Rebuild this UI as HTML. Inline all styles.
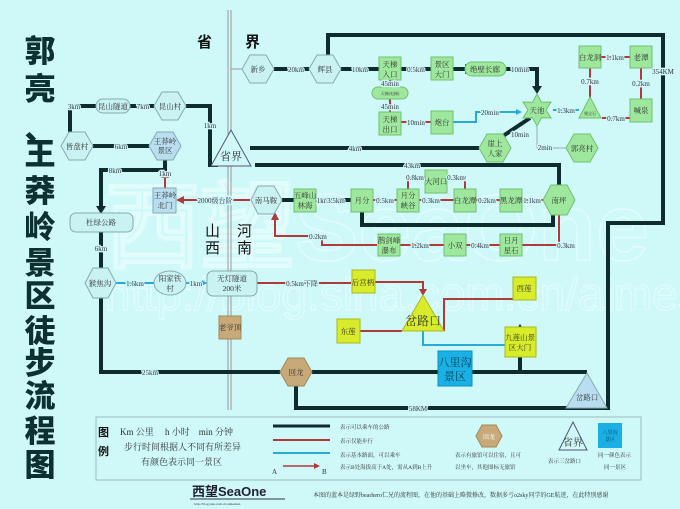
<!DOCTYPE html>
<html><head><meta charset="utf-8"><style>
html,body{margin:0;padding:0;background:#cff8f8;}
svg{display:block;font-family:"Liberation Serif","Noto Serif CJK SC","Noto Sans CJK SC",serif;}
.s{font-size:7px;fill:#334;stroke:#cff8f8;stroke-width:2.5;paint-order:stroke;}
.n{font-size:7.5px;fill:#333;}
.k{stroke:#0f2c2c;stroke-width:4;fill:none;}
.r{stroke:#b03a3a;stroke-width:2;fill:none;}
.c{stroke:#2aaad6;stroke-width:2;fill:none;}
.g{fill:#9ee89e;stroke:#70c070;stroke-width:1;}
.y{fill:#d8ec2a;stroke:#a8b820;stroke-width:1;}
.h{fill:#c9f2f2;stroke:#88aab0;stroke-width:1;}
</style></head><body>
<svg width="680" height="509" viewBox="0 0 680 509" xmlns="http://www.w3.org/2000/svg">
<rect width="680" height="509" fill="#cff8f8"/>
<!-- watermark -->
<text x="105" y="260" font-family="Liberation Sans,sans-serif" font-size="95" font-weight="bold" fill="none" stroke="#e2fcfc" stroke-width="1.5">西望SeaOne</text>
<text x="105" y="310" font-family="Liberation Sans,sans-serif" font-size="46" fill="none" stroke="#e2fcfc" stroke-width="1.2">http://blog.sina.com.cn/aimeshen</text>

<!-- title -->
<g font-family="Liberation Sans,'Noto Sans CJK SC',sans-serif" font-size="31" font-weight="900" fill="#0d3030" text-anchor="middle">
<text x="40" y="62">郭</text><text x="40" y="100">亮</text><text x="40" y="140">、</text>
<text x="40" y="165">王</text><text x="40" y="202">莽</text><text x="40" y="238">岭</text>
<text x="40" y="274">景</text><text x="40" y="307">区</text><text x="40" y="342">徒</text>
<text x="40" y="374">步</text><text x="40" y="407">流</text><text x="40" y="442">程</text><text x="40" y="476">图</text>
</g>

<!-- province line -->
<line x1="228" y1="10" x2="228" y2="410" stroke="#999" stroke-width="1"/>
<line x1="231" y1="10" x2="231" y2="410" stroke="#999" stroke-width="1"/>
<g font-size="15" font-weight="bold" fill="#111" font-family="Liberation Sans,'Noto Sans CJK SC',sans-serif"><text x="197" y="47">省</text><text x="245" y="47">界</text></g>
<g font-size="15" fill="#111" font-family="Liberation Sans,'Noto Sans CJK SC',sans-serif"><text x="205" y="236">山</text><text x="205" y="253">西</text><text x="237" y="236">河</text><text x="237" y="253">南</text></g>
<line x1="231" y1="69" x2="242" y2="69" stroke="#999"/>

<!-- thick roads -->
<path class="k" d="M274 69H309"/>
<path class="k" d="M328 56V35H663V223H608V408H566"/>
<path class="k" d="M341 69H379"/>
<path class="k" d="M401 69H431"/>
<path class="k" d="M453 69H465"/><polygon points="465,64 474,69 465,74" fill="#0f2c2c"/>
<path class="k" d="M506 69H537V88"/><polygon points="532,86 537,94 542,86" fill="#0f2c2c"/>
<path class="k" d="M503 136L530 118"/>
<path class="k" d="M250 148H479"/>
<path class="k" d="M255 165H559V185"/>
<path class="k" d="M186 106H210V165H218"/>
<path class="k" d="M70 106V132"/><path class="k" d="M70 106H96"/><path class="k" d="M130 106H154"/>
<path class="k" d="M93 146H149"/>
<path class="k" d="M165 160V170H101V207"/><polygon points="96,206 101,214 106,206" fill="#0f2c2c"/>
<path class="k" d="M101 232V268"/><path class="k" d="M101 298V372H280"/>
<path class="k" d="M282 200H294"/><path class="k" d="M316 200H351"/>
<path class="k" d="M362 211V225H553V215"/>
<path class="k" d="M312 372H587"/>
<path class="k" d="M296 386V408H566"/>
<path class="k" d="M520 372V328"/><polygon points="516,330 520,324 524,330" fill="#0f2c2c"/>

<!-- red walking -->
<path class="r" d="M401 122H431"/>
<path class="r" d="M390 80V112"/>
<path class="r" d="M601 57H630M590 68V98M641 68V99M602 118H630"/>
<path class="r" d="M250 200H181"/><polygon points="184,196 176,200 184,204" fill="#b03a3a"/>
<path class="r" d="M165 188V175"/><polygon points="161,178 165,170 169,178" fill="#b03a3a"/>
<path class="r" d="M373 200H397"/><polygon points="380,197 374,200 380,203" fill="#b03a3a"/>
<path class="r" d="M419 200H454"/><polygon points="426,197 420,200 426,203" fill="#b03a3a"/>
<path class="r" d="M476 200H500M522 200H543"/>
<path class="r" d="M408 189V177H425M447 177H465V189"/>
<path class="r" d="M559 215V245H520M500 245H466M444 245H400M377 245H322V236H275V218"/>
<polygon points="271,220 275,212 279,220" fill="#b03a3a"/>
<path class="r" d="M257 283H351"/>
<path class="r" d="M375 282H423V292"/><polygon points="419,289 423,296 427,289" fill="#b03a3a"/>
<path class="r" d="M360 331H402"/>
<path class="r" d="M444 331V299H513"/>

<!-- cyan -->
<path class="c" d="M453 122H476V112H519"/><polygon points="516,109 522,112 516,115" fill="#2aaad6"/>
<path class="c" d="M553 110H579"/>
<path class="c" d="M116 283H154M186 283H206"/><polygon points="202,280 207,283 202,286" fill="#2aaad6"/>
<path class="c" d="M423 331V345H505"/>
<path d="M537 126V148H566" stroke="#9ab" fill="none"/>

<!-- nodes hex -->
<g class="h">
<polygon points="242,69 250,55 266,55 274,69 266,83 250,83"/>
<polygon points="309,69 317,55 333,55 341,69 333,83 317,83"/>
<polygon points="154,106 162,92 178,92 186,106 178,120 162,120"/>
<polygon points="61,146 69,132 85,132 93,146 85,160 69,160"/>
<polygon points="149,146 157,132 173,132 181,146 173,160 157,160" fill="#b8def0"/>
<polygon points="479,148 487,134 503,134 511,148 503,162 487,162" fill="#9ee89e" stroke="#70c070"/>
<polygon points="566,148 574,134 590,134 598,148 590,162 574,162" fill="#9ee89e" stroke="#70c070"/>
<polygon points="251,200 258,186 274,186 282,200 274,214 258,214"/>
<polygon points="543,200 551,185 567,185 575,200 567,215 551,215" fill="#9ee89e" stroke="#70c070"/>
<polygon points="85,283 93,268 108,268 116,283 108,298 93,298"/>
</g>
<polygon points="280,372 288,358 304,358 312,372 304,386 288,386" fill="#c8aa7a" stroke="#a08858"/>
<!-- rounded -->
<rect x="96" y="99" width="34" height="14" rx="7" class="h"/>
<rect x="70" y="213" width="63" height="19" rx="6" class="h"/>
<rect x="207" y="271" width="50" height="25" rx="6" class="h"/>
<ellipse cx="170" cy="283" rx="16" ry="12" class="h"/>
<rect x="465" y="62" width="41" height="14" rx="7" class="g"/>
<rect x="372" y="87" width="36" height="12" rx="6" class="g"/>
<!-- green boxes -->
<g class="g">
<rect x="379" y="57" width="22" height="23"/><rect x="431" y="57" width="22" height="23"/>
<rect x="379" y="112" width="22" height="23"/><rect x="431" y="111" width="22" height="23"/>
<rect x="579" y="46" width="22" height="22"/><rect x="630" y="46" width="22" height="22"/><rect x="630" y="99" width="22" height="23"/>
<rect x="294" y="189" width="22" height="23"/><rect x="351" y="189" width="22" height="23"/>
<rect x="397" y="189" width="22" height="23"/><rect x="425" y="170" width="22" height="23"/>
<rect x="454" y="189" width="22" height="23"/><rect x="500" y="189" width="22" height="23"/>
<rect x="378" y="234" width="22" height="22"/><rect x="444" y="234" width="22" height="22"/><rect x="500" y="234" width="22" height="22"/>
</g>
<polygon points="590,97 579,118 601,118" class="g"/>
<polygon points="537,94 541.5,102.2 551,102 546,110 551,118 541.5,117.8 537,126 532.5,117.8 523,118 528,110 523,102 532.5,102.2" class="g"/>
<rect x="153" y="188" width="23" height="25" fill="#b8def0" stroke="#88aab0"/>
<rect x="219" y="316" width="22" height="23" fill="#c8aa7a" stroke="#a08858"/>
<g class="y"><rect x="352" y="270" width="23" height="23"/><rect x="337" y="319" width="23" height="24"/><rect x="513" y="277" width="23" height="23"/><rect x="505" y="327" width="31" height="30"/></g>
<polygon points="423,295 402,331 444,331" class="y"/>
<rect x="438" y="351" width="34" height="35" fill="#1ab0e6" stroke="#0a90c0"/>
<polygon points="231,130 211,166 251,166" fill="#cff8f8" stroke="#557" stroke-width="1"/>
<polygon points="587,373 566,408 607,408" fill="#b8def0" stroke="#88aab0"/>

<!-- node labels -->
<g class="n" text-anchor="middle">
<text x="258" y="72">新乡</text><text x="325" y="72">辉县</text>
<text x="390" y="67">天梯</text><text x="390" y="77">入口</text>
<text x="442" y="67">景区</text><text x="442" y="77">大门</text>
<text x="485" y="72">绝壁长廊</text>
<text x="390" y="95" font-size="4">天梯(电梯)</text>
<text x="390" y="122">天梯</text><text x="390" y="132">出口</text>
<text x="442" y="125">炮台</text>
<text x="537" y="113">天池</text>
<text x="590" y="60">白龙洞</text><text x="641" y="60">老潭</text><text x="641" y="113">喊泉</text>
<text x="590" y="115" font-size="4">聚宝石</text>
<text x="495" y="146">崖上</text><text x="495" y="156">人家</text>
<text x="582" y="151">郭亮村</text>
<text x="170" y="109">昆山村</text><text x="113" y="109">昆山隧道</text>
<text x="77" y="149">皆盘村</text>
<text x="165" y="144">王莽岭</text><text x="165" y="153">景区</text>
<text x="231" y="160" font-size="11">省界</text>
<text x="165" y="198">王莽岭</text><text x="165" y="208">北门</text>
<text x="266" y="203">南马鞍</text>
<text x="305" y="198">五峰山</text><text x="305" y="208">林海</text>
<text x="362" y="203">月分</text>
<text x="408" y="198">月分</text><text x="408" y="208">峡谷</text>
<text x="436" y="184">大河口</text>
<text x="465" y="203">白龙潭</text><text x="511" y="203">黑龙潭</text>
<text x="559" y="203">南坪</text>
<text x="389" y="243">鹊剑峰</text><text x="389" y="253">瀑布</text>
<text x="455" y="248">小双</text>
<text x="511" y="243">日月</text><text x="511" y="253">星石</text>
<text x="101" y="225">杜绿公路</text>
<text x="100" y="286">猴焦沟</text>
<text x="170" y="281">阳家铁</text><text x="170" y="291">村</text>
<text x="232" y="281">无灯隧道</text><text x="232" y="291">200米</text>
<text x="230" y="330">老爷顶</text>
<text x="296" y="375">回龙</text>
<text x="363" y="285">后宫柄</text><text x="348" y="334">东莲</text><text x="524" y="291">西莲</text>
<text x="520" y="340">九莲山景</text><text x="520" y="350">区大门</text>
<text x="423" y="325" font-size="12">岔路口</text>
<text x="455" y="366" font-size="11" fill="#045">八里沟</text><text x="455" y="380" font-size="11" fill="#045">景区</text>
<text x="587" y="400">岔路口</text>
</g>
<!-- distance labels -->
<g class="s" text-anchor="middle">
<text x="296" y="72">20km</text>
<text x="360" y="72">10km</text><text x="416" y="72">0.5km</text><text x="520" y="72">10min</text>
<text x="390" y="86">45min</text><text x="390" y="109">45min</text>
<text x="416" y="125">10min</text><text x="490" y="115">20min</text>
<text x="520" y="137">10min</text><text x="566" y="113">1.3km</text>
<text x="615" y="60">1.1km</text><text x="590" y="84">0.7km</text><text x="641" y="86">0.2km</text><text x="616" y="121">0.7km</text>
<text x="663" y="74">354KM</text><text x="545" y="150">2min</text>
<text x="355" y="151">4km</text><text x="412" y="168">43km</text>
<text x="210" y="128">1km</text><text x="74" y="109">3km</text><text x="143" y="109">7km</text>
<text x="121" y="149">6km</text><text x="115" y="173">8km</text><text x="165" y="176">1km</text>
<text x="215" y="203">2000级台阶</text>
<text x="323" y="203">1km</text><text x="336" y="203">3.5km</text><text x="385" y="203">0.5km</text><text x="431" y="203">0.3km</text>
<text x="487" y="203">0.2km</text><text x="532" y="203">1.1km</text>
<text x="415" y="180">0.8km</text><text x="456" y="180">0.3km</text>
<text x="318" y="239">0.2km</text><text x="420" y="248">1.2km</text><text x="480" y="248">0.4km</text><text x="566" y="248">0.3km</text>
<text x="101" y="251">6km</text><text x="135" y="286">1.6km</text><text x="196" y="286">1km</text>
<text x="302" y="286">0.5km下降</text>
<text x="150" y="375">25km</text><text x="418" y="411">58KM</text>
</g>

<!-- legend -->
<rect x="96" y="417" width="545" height="63" fill="#cff8f8" stroke="#9bb" stroke-width="1"/>
<g font-family="Liberation Sans,'Noto Sans CJK SC',sans-serif" font-size="11" font-weight="bold" fill="#111"><text x="98" y="436">图</text><text x="98" y="455">例</text></g>
<g font-size="9" fill="#333"><text x="120" y="435">Km 公里　 h 小时　min 分钟</text><text x="124" y="450">步行时间根据人不同有所差异</text><text x="141" y="465">有颜色表示同一景区</text></g>
<line x1="273" y1="426" x2="330" y2="426" stroke="#0f2c2c" stroke-width="3"/>
<line x1="273" y1="440" x2="330" y2="440" stroke="#b03a3a" stroke-width="2"/>
<line x1="273" y1="453" x2="330" y2="453" stroke="#2aaad6" stroke-width="2"/>
<line x1="283" y1="466" x2="316" y2="466" stroke="#b03a3a" stroke-width="1.5"/><polygon points="314,463 320,466 314,469" fill="#b03a3a"/>
<text x="272" y="474" font-size="7" fill="#334">A</text><text x="322" y="474" font-size="7" fill="#334">B</text>
<g font-size="5.5" fill="#333"><text x="340" y="429">表示可以乘车的公路</text><text x="340" y="443">表示仅能步行</text><text x="340" y="457">表示基本路面，可以乘车</text><text x="340" y="469">表示B处海拔高于A处，需从A到B上升</text>
<text x="455" y="457">表示有旅馆可以住宿，且可</text><text x="455" y="469">以坐车，其他图标无旅馆</text>
<text x="548" y="463">表示三岔路口</text><text x="598" y="457">同一颜色表示</text><text x="604" y="469">同一景区</text></g>
<polygon points="476,436 482,425 496,425 502,436 496,447 482,447" fill="#c8aa7a" stroke="#a08858"/><text x="489" y="439" font-size="6" fill="#fff" text-anchor="middle">回龙</text>
<polygon points="573,422 559,450 587,450" fill="#cff8f8" stroke="#557"/><text x="573" y="446" font-size="10" text-anchor="middle" fill="#333">省界</text>
<rect x="598" y="423" width="24" height="25" fill="#1ab0e6"/><text x="610" y="434" font-size="5" text-anchor="middle" fill="#045">八里沟</text><text x="610" y="441" font-size="5" text-anchor="middle" fill="#045">景区</text>
<text x="192" y="496" font-family="Liberation Sans,'Noto Sans CJK SC',sans-serif" font-size="13" font-weight="bold" fill="#223">西望SeaOne</text>
<line x1="190" y1="499" x2="285" y2="499" stroke="#334"/>
<text x="194" y="505" font-size="3.5" fill="#334">http://blog.sina.com.cn/aimeshen</text>
<text x="313" y="497" font-size="6" fill="#333">本图的蓝本是绿野bearhero仁兄的流程图，在他的基础上略微修改，数据多亏o2sky同学的GE航迹，在此特别感谢</text>
</svg>
</body></html>
